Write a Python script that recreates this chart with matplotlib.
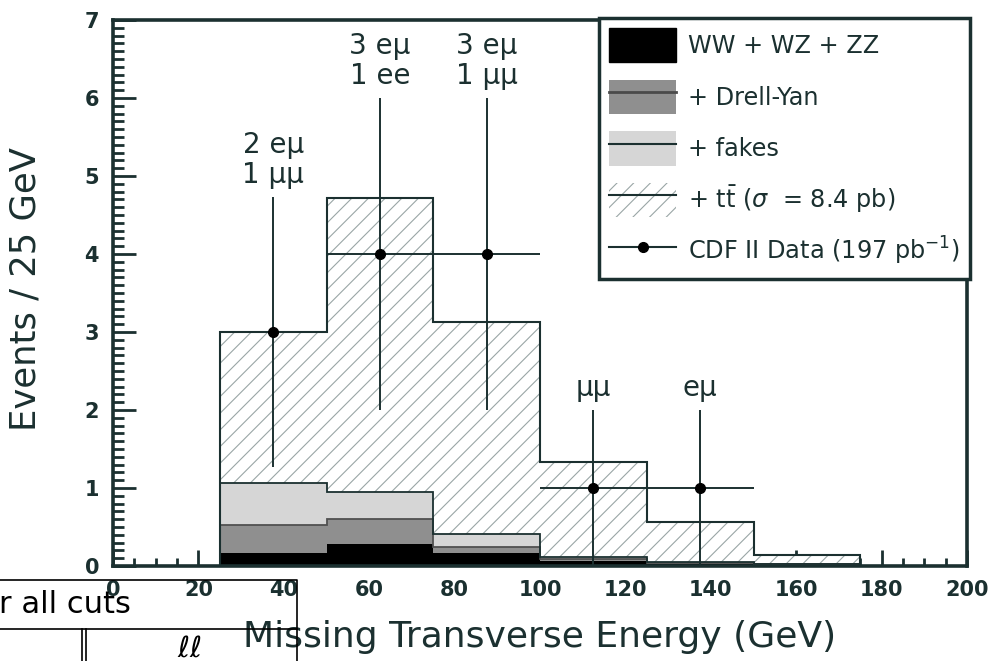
import matplotlib.pyplot as plt
from matplotlib.lines import Line2D
from matplotlib.patches import Patch
from matplotlib.ticker import MultipleLocator

# MET distribution, dilepton candidates: stacked expectations and data
edges = [25, 50, 75, 100, 125, 150, 175]
ww_top = [0.17, 0.28, 0.17, 0.07, 0.03, 0.01]
dy_top = [0.53, 0.60, 0.24, 0.09, 0.04, 0.02]
fakes_top = [1.06, 0.95, 0.41, 0.12, 0.05, 0.03]
ttbar_top = [3.00, 4.72, 3.13, 1.33, 0.56, 0.14]

data_x = [37.5, 62.5, 87.5, 112.5, 137.5]
data_n = [3, 4, 4, 1, 1]
data_err = [1.73, 2.0, 2.0, 1.0, 1.0]
channels = ['2 eμ\n1 μμ', '3 eμ\n1 ee', '3 eμ\n1 μμ', 'μμ', 'eμ']

ink = '#1b3030'
hatch_col = '#9aa6a6'

plt.rcParams['hatch.linewidth'] = 0.8
plt.rcParams['font.family'] = ['DejaVu Sans']

fig = plt.figure(figsize=(10.07, 6.61), dpi=100)
W, H = 1007, 661
ax = fig.add_axes([113 / W, 1 - 566 / H, 854 / W, 546 / H])

# stacked backgrounds
ax.stairs(ww_top, edges, baseline=0, fill=True, color='black', zorder=2)
ax.stairs(dy_top, edges, baseline=ww_top, fill=True, color='#8f8f8f', zorder=2)
ax.stairs(fakes_top, edges, baseline=dy_top, fill=True, color='#d6d6d6', zorder=2)
ax.stairs(ttbar_top, edges, baseline=fakes_top, fill=True, facecolor='white',
          edgecolor=hatch_col, hatch='//', linewidth=0, zorder=2)
ax.stairs(dy_top, edges, baseline=None, color='#505050', lw=1.3, zorder=3)
ax.stairs(fakes_top, edges, baseline=None, color=ink, lw=1.3, zorder=3)
ax.stairs(ttbar_top, edges, baseline=0, color=ink, lw=1.5, zorder=3)

# data
half_bin = (edges[1] - edges[0]) / 2
ax.errorbar(data_x, data_n, xerr=half_bin, yerr=data_err, fmt='o', color='black',
            ecolor=ink, elinewidth=1.4, ms=7, capsize=0, zorder=4)
for x, n, e, txt in zip(data_x, data_n, data_err, channels):
    ax.annotate(txt, (x, n + e), xytext=(0, 6), textcoords='offset points',
                ha='center', va='bottom', fontsize=20, color=ink, linespacing=1.08)

ax.set_xlim(0, 200)
ax.set_ylim(0, 7)
ax.xaxis.set_major_locator(MultipleLocator(20))
ax.xaxis.set_minor_locator(MultipleLocator(5))
ax.yaxis.set_major_locator(MultipleLocator(1))
ax.yaxis.set_minor_locator(MultipleLocator(0.1))
ax.tick_params(which='both', direction='in', top=False, right=False, width=2, color=ink)
ax.tick_params(axis='x', which='major', length=11.5, pad=10)
ax.tick_params(axis='x', which='minor', length=5.8)
ax.tick_params(axis='y', which='major', length=16.5, pad=10)
ax.tick_params(axis='y', which='minor', length=8)
for lab in ax.get_xticklabels() + ax.get_yticklabels():
    lab.set_fontsize(15)
    lab.set_fontweight('bold')
    lab.set_color(ink)
for sp in ax.spines.values():
    sp.set_linewidth(2.6)
    sp.set_color(ink)

ax.set_xlabel('Missing Transverse Energy (GeV)', fontsize=26, color=ink)
ax.xaxis.set_label_coords(0.5, -0.098)
ax.set_ylabel('Events / 25 GeV', fontsize=25.5, color=ink)
ax.yaxis.set_label_coords(-0.082, 0.507)

handles = [
    Patch(facecolor='black', edgecolor='black'),
    (Patch(facecolor='#8f8f8f', edgecolor='none'), Line2D([], [], color='#4a4a4a', lw=2)),
    (Patch(facecolor='#d6d6d6', edgecolor='none'), Line2D([], [], color=ink, lw=1.5)),
    (Patch(facecolor='white', edgecolor=hatch_col, hatch='//', lw=0),
     Line2D([], [], color=ink, lw=1.5)),
    Line2D([], [], color=ink, lw=1.5, marker='o', ms=7, mfc='black', mec='black'),
]
labels = ['WW + WZ + ZZ', '+ Drell-Yan', '+ fakes',
          r'+ $\mathrm{t\bar{t}}$ ($\sigma$  = 8.4 pb)', r'CDF II Data (197 pb$^{-1}$)']
leg = ax.legend(handles, labels, loc='upper right', bbox_to_anchor=(970 / W, 1 - 18 / H),
                bbox_transform=fig.transFigure, borderaxespad=0, fontsize=17.3,
                handlelength=2.8, handleheight=1.82, labelspacing=0.72, borderpad=0.42,
                handletextpad=0.5, fancybox=False, framealpha=1, edgecolor=ink)
leg.get_frame().set_linewidth(2.5)
for t in leg.get_texts():
    t.set_color(ink)
leg.set_zorder(5)

# table fragment lying over the lower left corner
ov = fig.add_axes([0, 0, 1, 1], zorder=10)
ov.set_xlim(0, W)
ov.set_ylim(H, 0)
ov.axis('off')
ov.patch.set_alpha(0)
ov.plot([-5, 297, 297], [580, 580, 670], color='black', lw=1.2)
ov.plot([-5, 297], [629, 629], color='black', lw=1.2)
ov.plot([82, 82], [629, 670], color='black', lw=1.2)
ov.plot([86, 86], [629, 670], color='black', lw=1.2)
ov.text(-1, 613, 'r all cuts', fontsize=22, color='black', ha='left', va='baseline')
ov.text(177, 657, r'$\ell\ell$', fontsize=21, color='black', ha='left', va='baseline')

fig.savefig('out.png', dpi=100)
